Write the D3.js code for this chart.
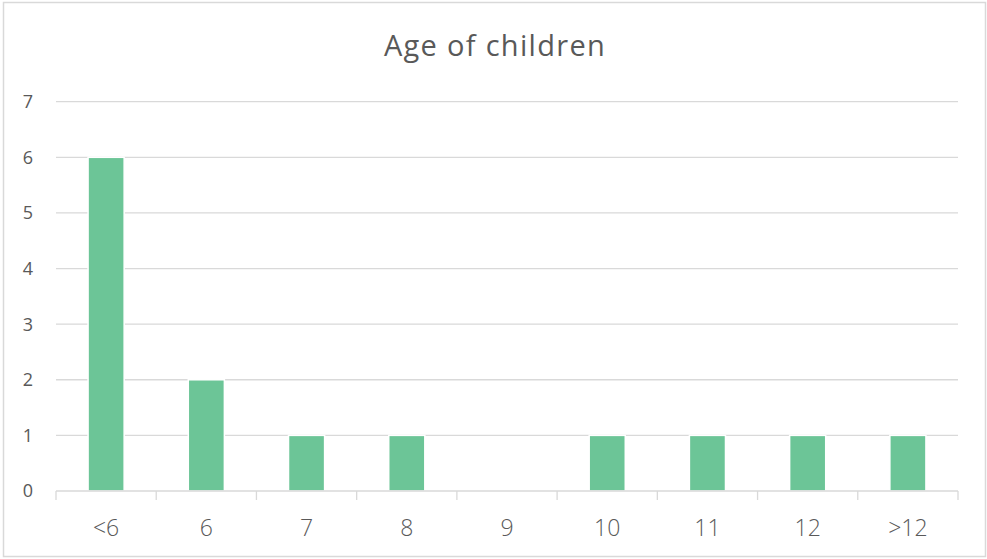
<!DOCTYPE html>
<html><head><meta charset="utf-8">
<script src="https://cdn.jsdelivr.net/npm/d3@7"></script>
<style>body{margin:0;background:#fff}svg{display:block}</style>
</head><body>
<svg id="c" width="987" height="559"></svg>
<script>
const categories = ["<6","6","7","8","9","10","11","12",">12"];
const values = [6,2,1,1,0,1,1,1,1];
const yTicks = [0,1,2,3,4,5,6,7];
const title = "Age of children";

const svg = d3.select("#c");
const m = {left:56, right:958, top:101.7, bottom:491};
const font = "'Open Sans', 'Segoe UI', sans-serif";

svg.append("rect").attr("x",3.5).attr("y",2.5).attr("width",982).attr("height",554)
  .attr("fill","#fff").attr("stroke","#d9d9d9").attr("stroke-width",1.5);

const x = d3.scaleBand().domain(categories).range([m.left,m.right]).paddingInner(0.64).paddingOuter(0.32);
const xb = d3.scaleBand().domain(categories).range([m.left,m.right]);
const y = d3.scaleLinear().domain([0,7]).range([m.bottom,m.top]);

// gridlines
svg.append("g").selectAll("line").data(yTicks.filter(d=>d>0)).join("line")
  .attr("x1",m.left).attr("x2",m.right).attr("y1",d=>y(d)).attr("y2",d=>y(d))
  .attr("stroke","#d9d9d9").attr("stroke-width",1.3);

// bars
svg.append("g").selectAll("rect").data(values).join("rect")
  .attr("x",(d,i)=>x(categories[i]))
  .attr("width",x.bandwidth())
  .attr("y",d=>y(d))
  .attr("height",d=>y(0)-y(d))
  .attr("fill","#6cc597").attr("stroke","#fff").attr("stroke-width",1.5)
  .attr("display",d=>d>0?null:"none");

// x axis
svg.append("line").attr("x1",m.left).attr("x2",m.right).attr("y1",m.bottom).attr("y2",m.bottom)
  .attr("stroke","#d9d9d9").attr("stroke-width",1.3);
const bounds = categories.map(c=>xb(c)).concat([m.right]);
svg.append("g").selectAll("line").data(bounds).join("line")
  .attr("x1",d=>d).attr("x2",d=>d).attr("y1",m.bottom).attr("y2",m.bottom+9)
  .attr("stroke","#d9d9d9").attr("stroke-width",1.3);
svg.append("g").selectAll("text").data(categories).join("text")
  .attr("x",d=>xb(d)+xb.bandwidth()/2).attr("y",536)
  .attr("text-anchor","middle").attr("font-family",font).attr("font-weight",300)
  .attr("font-size",23).attr("fill","#595959").text(d=>d);

// y labels
svg.append("g").selectAll("text").data(yTicks).join("text")
  .attr("x",33).attr("y",d=>y(d)).attr("dy","0.36em")
  .attr("text-anchor","end").attr("font-family",font)
  .attr("font-size",18).attr("fill","#595959").text(d=>d);

// title
svg.append("text").attr("x",495).attr("y",56).attr("text-anchor","middle")
  .attr("font-family",font).attr("font-size",29).attr("letter-spacing",1.3)
  .attr("fill","#595959").text(title);
</script>
</body></html>
